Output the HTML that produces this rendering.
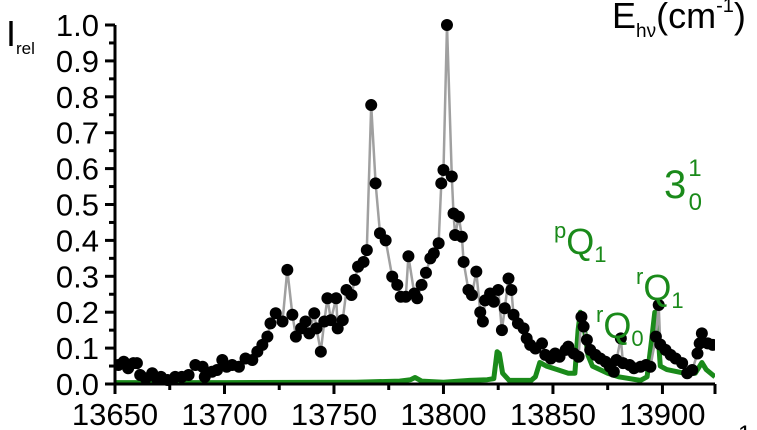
<!DOCTYPE html>
<html><head><meta charset="utf-8"><style>
html,body{margin:0;padding:0;background:#fff;}
svg{display:block;font-family:"Liberation Sans",Arial,sans-serif;}
</style></head><body>
<svg id="chart" width="757" height="430" viewBox="0 0 757 430" xmlns="http://www.w3.org/2000/svg">
<g id="plot"></g>
<g id="axes"></g>
<text x="6" y="46" font-size="36">I<tspan font-size="17" dy="8">rel</tspan></text>
<text x="612" y="28" font-size="36">E<tspan font-size="19" dy="9">hν</tspan><tspan dy="-9">(cm</tspan><tspan font-size="20" dy="-16">-1</tspan><tspan dy="16">)</tspan></text>
<text x="738" y="442" font-size="24">1</text>
<g fill="#1a8a1a">
<text x="664" y="198" font-size="40">3<tspan font-size="24" dx="2" dy="-22">1</tspan><tspan font-size="24" dx="-13" dy="34">0</tspan></text>
<text x="554" y="254" font-size="36"><tspan font-size="22" dy="-16">p</tspan><tspan dy="16">Q</tspan><tspan font-size="22" dy="8">1</tspan></text>
<text x="636" y="300" font-size="36"><tspan font-size="22" dy="-16">r</tspan><tspan dy="16">Q</tspan><tspan font-size="22" dy="8">1</tspan></text>
<text x="596" y="338" font-size="36"><tspan font-size="22" dy="-16">r</tspan><tspan dy="16">Q</tspan><tspan font-size="22" dy="8">0</tspan></text>
</g>
</svg>
<script>
const expX=[13651.5,13654,13656,13658.4,13660,13661.5,13664,13667,13669,13671,13674,13677.5,13680.5,13683.6,13686.7,13690,13691,13694.3,13696.6,13699,13701,13703.5,13706.6,13709.6,13712.7,13715,13717.3,13719.6,13721,13723.4,13726.5,13728.7,13731,13732.6,13735,13737,13738.7,13741,13742,13744,13745.6,13747,13748.6,13751,13751.7,13754,13755.7,13758,13759.5,13761,13763.5,13765,13767,13769,13771,13773.6,13776.6,13778.9,13780.5,13782.8,13784,13786.7,13788,13790,13792,13794,13795.6,13797.8,13799,13800,13801.6,13803.8,13804.6,13805.3,13807,13808.4,13809.2,13811.4,13813,13815,13816.8,13818,13819,13821.3,13823,13825,13826.7,13828,13829.7,13831,13832,13834,13836.6,13838,13839.6,13842,13845,13846.5,13849,13851,13853,13855.8,13857,13859.5,13861.7,13863,13864,13865.5,13867,13869.4,13871.6,13874,13876,13877.8,13879,13881,13882,13885,13887,13890,13892.5,13894.5,13897,13898.3,13899,13901.4,13903.7,13906,13909,13911.3,13913.6,13916,13917,13918,13920.7,13923];
const expY=[0.053,0.062,0.044,0.058,0.058,0.025,0.016,0.03,0.016,0.02,0.011,0.02,0.02,0.025,0.053,0.048,0.02,0.034,0.039,0.067,0.048,0.053,0.048,0.071,0.067,0.09,0.109,0.132,0.169,0.197,0.174,0.318,0.193,0.132,0.155,0.174,0.141,0.197,0.155,0.09,0.174,0.239,0.178,0.239,0.155,0.178,0.262,0.248,0.29,0.327,0.34,0.373,0.777,0.559,0.42,0.40,0.299,0.276,0.243,0.243,0.356,0.252,0.239,0.276,0.31,0.35,0.364,0.392,0.559,0.596,1.0,0.578,0.475,0.415,0.466,0.41,0.34,0.262,0.248,0.313,0.20,0.174,0.233,0.252,0.229,0.262,0.15,0.211,0.294,0.262,0.193,0.169,0.155,0.127,0.109,0.099,0.113,0.081,0.071,0.085,0.076,0.095,0.104,0.085,0.076,0.187,0.16,0.123,0.095,0.081,0.071,0.062,0.048,0.034,0.067,0.127,0.058,0.053,0.044,0.048,0.053,0.048,0.132,0.22,0.11,0.095,0.081,0.071,0.058,0.03,0.039,0.085,0.113,0.141,0.113,0.109];
const simX=[13650,13700,13760,13780,13785,13787,13790,13800,13812,13820,13823,13824.5,13825.5,13827,13830,13840,13842,13844,13847,13852,13857,13860,13861.5,13862.5,13864,13866,13868,13875,13880,13890,13893,13895,13896.5,13897.5,13899,13902,13910,13915,13918,13920,13924];
const simY=[0.004,0.004,0.005,0.008,0.012,0.018,0.008,0.005,0.01,0.012,0.015,0.09,0.085,0.03,0.01,0.01,0.02,0.06,0.05,0.04,0.03,0.03,0.15,0.2,0.17,0.08,0.05,0.03,0.02,0.01,0.02,0.12,0.2,0.18,0.05,0.04,0.03,0.03,0.06,0.04,0.02];
const xTicks=[13650,13700,13750,13800,13850,13900];
const yTicks=[0.0,0.1,0.2,0.3,0.4,0.5,0.6,0.7,0.8,0.9,1.0];

const X0=13650,X1=13924,PX0=115,PX1=715,Y0=0,Y1=1,PY0=384,PY1=25;
const sx=v=>PX0+(v-X0)/(X1-X0)*(PX1-PX0);
const sy=v=>PY0-(v-Y0)/(Y1-Y0)*(PY0-PY1);
const NS='http://www.w3.org/2000/svg';
function mk(t,a,p){const e=document.createElementNS(NS,t);for(const k in a)e.setAttribute(k,a[k]);p.appendChild(e);return e;}
const plot=document.getElementById('plot'),axes=document.getElementById('axes');
const defs=mk('defs',{},plot);const cp=mk('clipPath',{id:'cp'},defs);mk('rect',{x:PX0,y:0,width:PX1-PX0,height:PY0+3},cp);
const g=mk('g',{'clip-path':'url(#cp)'},plot);
const sim=mk('path',{d:simX.map((v,i)=>(i?'L':'M')+sx(v).toFixed(1)+' '+sy(simY[i]).toFixed(1)).join(''),fill:'none',stroke:'#1a8a1a','stroke-width':5,'stroke-linejoin':'round'},g);


const ln=mk('path',{d:expX.map((v,i)=>(i?'L':'M')+sx(v).toFixed(1)+' '+sy(expY[i]).toFixed(1)).join(''),fill:'none',stroke:'#a0a0a0','stroke-width':2.5},g);


expX.forEach((v,i)=>{const c=mk('circle',{cx:sx(v),cy:sy(expY[i]),r:6,fill:'#000'},g);

});
mk('line',{x1:PX0,y1:PY1,x2:PX0,y2:PY0,stroke:'#000','stroke-width':3},axes);
mk('line',{x1:PX0,y1:PY0,x2:PX1,y2:PY0,stroke:'#000','stroke-width':3},axes);
yTicks.forEach((v,i)=>{mk('line',{x1:PX0-10,y1:sy(v),x2:PX0,y2:sy(v),stroke:'#000','stroke-width':3},axes);
if(i<yTicks.length-1)mk('line',{x1:PX0-6,y1:sy(v+0.05),x2:PX0,y2:sy(v+0.05),stroke:'#000','stroke-width':3},axes);
const t=mk('text',{x:PX0-16,y:sy(v)+11,'font-size':31,'text-anchor':'end'},axes);t.textContent=v.toFixed(1);

});
xTicks.forEach(v=>{mk('line',{x1:sx(v),y1:PY0,x2:sx(v),y2:PY0+10,stroke:'#000','stroke-width':3},axes);
if(v+25<=X1)mk('line',{x1:sx(v+25),y1:PY0,x2:sx(v+25),y2:PY0+6,stroke:'#000','stroke-width':3},axes);
const t=mk('text',{x:sx(v),y:PY0+41,'font-size':31,'text-anchor':'middle'},axes);t.textContent=v;

});
mk('line',{x1:PX1,y1:PY0,x2:PX1,y2:PY0+10,stroke:'#000','stroke-width':3},axes);
</script>
</body></html>
